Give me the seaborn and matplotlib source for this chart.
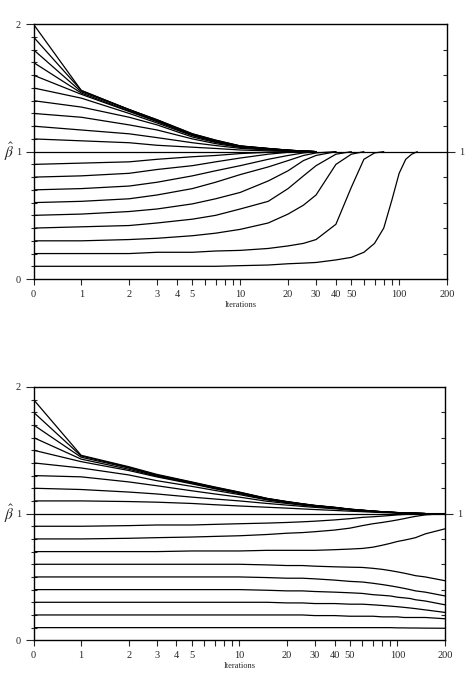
import numpy as np
import pandas as pd
import matplotlib
matplotlib.use('Agg')
import matplotlib.pyplot as plt
import seaborn as sns
from matplotlib.ticker import FixedLocator, NullFormatter

# ── Data ─────────────────────────────────────────────────────────────────────
# iteration 0 sits one "doubling" left of 1 on the log axis, so it is drawn at 0.5
iterations = [0, 1, 2, 3, 5, 7, 10, 15, 20, 25, 30, 40, 50, 60, 70, 80, 90,
              100, 110, 120, 130, 150, 200]

xtick_values = [0, 1, 2, 3, 4, 5, 10, 20, 30, 40, 50, 100, 200]
xtick_minor = [6, 7, 8, 9, 60, 70, 80, 90]
ytick_labels = [0, 1, 2]

level_one = [1.0, 1.0, 1.0, 1.0, 1.0, 1.0, 1.0, 1.0, 1.0, 1.0, 1.0, 1.0,
             1.0, 1.0, 1.0, 1.0, 1.0, 1.0, 1.0, 1.0, 1.0, 1.0, 1.0]

# top panel, starting values 2.0 .. 1.1 (curves end once they reach 1)
top_upper = [
    [2.00, 1.48, 1.33, 1.25, 1.14, 1.09, 1.045, 1.025, 1.012, 1.005, 1.0],
    [1.90, 1.48, 1.33, 1.25, 1.14, 1.09, 1.045, 1.025, 1.012, 1.005, 1.0],
    [1.80, 1.47, 1.33, 1.245, 1.135, 1.085, 1.043, 1.024, 1.011, 1.004, 1.0],
    [1.70, 1.46, 1.32, 1.24, 1.13, 1.083, 1.042, 1.023, 1.011, 1.004, 1.0],
    [1.60, 1.45, 1.315, 1.235, 1.13, 1.08, 1.04, 1.022, 1.01, 1.004, 1.0],
    [1.50, 1.42, 1.30, 1.225, 1.125, 1.077, 1.04, 1.02, 1.01, 1.003, 1.0],
    [1.40, 1.35, 1.27, 1.21, 1.115, 1.072, 1.037, 1.019, 1.009, 1.003, 1.0],
    [1.30, 1.27, 1.21, 1.17, 1.10, 1.063, 1.033, 1.017, 1.008, 1.003, 1.0],
    [1.20, 1.17, 1.14, 1.11, 1.07, 1.048, 1.026, 1.013, 1.006, 1.002, 1.0],
    [1.10, 1.085, 1.07, 1.05, 1.035, 1.025, 1.013, 1.006, 1.003, 1.001, 1.0],
]

# top panel, starting values 0.9 .. 0.1
top_lower = [
    [0.90, 0.91, 0.92, 0.94, 0.96, 0.97, 0.985, 0.995, 1.0],
    [0.80, 0.81, 0.83, 0.86, 0.89, 0.92, 0.95, 0.98, 0.995, 1.0],
    [0.70, 0.71, 0.73, 0.76, 0.81, 0.85, 0.89, 0.94, 0.97, 0.99, 1.0],
    [0.60, 0.61, 0.63, 0.66, 0.71, 0.76, 0.82, 0.88, 0.93, 0.97, 0.99, 1.0],
    [0.50, 0.51, 0.53, 0.55, 0.59, 0.63, 0.68, 0.77, 0.85, 0.93, 0.97, 1.0],
    [0.40, 0.41, 0.42, 0.44, 0.47, 0.50, 0.55, 0.61, 0.71, 0.81, 0.89, 0.98, 1.0],
    [0.30, 0.30, 0.31, 0.32, 0.34, 0.36, 0.39, 0.44, 0.51, 0.58, 0.66, 0.90,
     0.98, 1.0],
    [0.20, 0.20, 0.20, 0.21, 0.21, 0.22, 0.225, 0.24, 0.26, 0.28, 0.31, 0.43,
     0.72, 0.94, 0.99, 1.0],
    [0.10, 0.10, 0.10, 0.10, 0.10, 0.10, 0.105, 0.11, 0.12, 0.125, 0.13, 0.15,
     0.17, 0.21, 0.28, 0.40, 0.62, 0.83, 0.94, 0.98, 1.0],
]

# bottom panel, starting values 1.9 .. 1.1
bottom_upper = [
    [1.90, 1.46, 1.37, 1.31, 1.25, 1.21, 1.17, 1.12, 1.095, 1.078, 1.065, 1.05,
     1.035, 1.027, 1.02, 1.015, 1.011, 1.008, 1.006, 1.004, 1.003, 1.0],
    [1.80, 1.455, 1.365, 1.305, 1.247, 1.207, 1.168, 1.119, 1.094, 1.077, 1.064,
     1.049, 1.035, 1.027, 1.02, 1.015, 1.011, 1.008, 1.006, 1.004, 1.003, 1.0],
    [1.70, 1.445, 1.36, 1.30, 1.243, 1.204, 1.165, 1.117, 1.093, 1.076, 1.063,
     1.048, 1.034, 1.026, 1.019, 1.014, 1.011, 1.008, 1.006, 1.004, 1.002, 1.0],
    [1.60, 1.43, 1.35, 1.295, 1.24, 1.20, 1.162, 1.115, 1.091, 1.075, 1.062,
     1.047, 1.033, 1.025, 1.019, 1.014, 1.01, 1.007, 1.005, 1.003, 1.002, 1.0],
    [1.50, 1.41, 1.34, 1.29, 1.235, 1.196, 1.158, 1.112, 1.089, 1.073, 1.061,
     1.046, 1.033, 1.025, 1.018, 1.014, 1.01, 1.007, 1.005, 1.003, 1.002, 1.0],
    [1.40, 1.36, 1.305, 1.26, 1.215, 1.183, 1.15, 1.108, 1.086, 1.071, 1.06,
     1.045, 1.032, 1.024, 1.018, 1.013, 1.01, 1.007, 1.005, 1.003, 1.002, 1.0],
    [1.30, 1.29, 1.25, 1.22, 1.18, 1.155, 1.13, 1.097, 1.08, 1.066, 1.056,
     1.042, 1.031, 1.023, 1.017, 1.013, 1.009, 1.007, 1.005, 1.003, 1.002, 1.0],
    [1.20, 1.19, 1.17, 1.155, 1.13, 1.115, 1.10, 1.08, 1.067, 1.057, 1.049,
     1.038, 1.028, 1.021, 1.016, 1.012, 1.009, 1.006, 1.004, 1.003, 1.002, 1.0],
    [1.10, 1.10, 1.095, 1.09, 1.08, 1.07, 1.06, 1.05, 1.043, 1.037, 1.032,
     1.025, 1.019, 1.015, 1.011, 1.008, 1.006, 1.004, 1.003, 1.002, 1.001, 1.0],
]

# bottom panel, starting values 0.9 .. 0.1
bottom_lower = [
    [0.90, 0.90, 0.905, 0.91, 0.91, 0.915, 0.92, 0.925, 0.93, 0.935, 0.94, 0.95,
     0.96, 0.97, 0.975, 0.98, 0.985, 0.99, 0.993, 0.995, 0.997, 1.0, 1.0],
    [0.80, 0.80, 0.805, 0.81, 0.815, 0.82, 0.825, 0.835, 0.845, 0.85, 0.857,
     0.87, 0.885, 0.905, 0.92, 0.93, 0.94, 0.95, 0.96, 0.97, 0.978, 0.99, 1.0],
    [0.70, 0.70, 0.70, 0.70, 0.705, 0.705, 0.705, 0.71, 0.71, 0.71, 0.71, 0.715,
     0.72, 0.725, 0.735, 0.75, 0.765, 0.78, 0.79, 0.80, 0.81, 0.84, 0.88],
    [0.60, 0.60, 0.60, 0.60, 0.60, 0.60, 0.60, 0.595, 0.59, 0.59, 0.585, 0.58,
     0.577, 0.575, 0.568, 0.56, 0.55, 0.54, 0.53, 0.52, 0.51, 0.50, 0.47],
    [0.50, 0.50, 0.50, 0.50, 0.50, 0.50, 0.50, 0.495, 0.49, 0.49, 0.485, 0.475,
     0.465, 0.46, 0.45, 0.44, 0.43, 0.42, 0.41, 0.40, 0.39, 0.38, 0.35],
    [0.40, 0.40, 0.40, 0.40, 0.40, 0.40, 0.40, 0.395, 0.39, 0.39, 0.385, 0.38,
     0.375, 0.37, 0.36, 0.355, 0.35, 0.34, 0.335, 0.33, 0.32, 0.31, 0.28],
    [0.30, 0.30, 0.30, 0.30, 0.30, 0.30, 0.30, 0.30, 0.295, 0.295, 0.29, 0.29,
     0.285, 0.285, 0.28, 0.275, 0.27, 0.265, 0.26, 0.255, 0.25, 0.24, 0.22],
    [0.20, 0.20, 0.20, 0.20, 0.20, 0.20, 0.20, 0.20, 0.20, 0.20, 0.195, 0.195,
     0.19, 0.19, 0.19, 0.185, 0.185, 0.185, 0.18, 0.18, 0.18, 0.18, 0.17],
    [0.10, 0.10, 0.10, 0.10, 0.10, 0.10, 0.10, 0.10, 0.10, 0.10, 0.10, 0.10,
     0.10, 0.10, 0.10, 0.10, 0.10, 0.098, 0.098, 0.097, 0.097, 0.096, 0.095],
]

# ── Style ─────────────────────────────────────────────────────────────────────
sns.set_style('ticks')
plt.rcParams['font.family'] = ['Liberation Serif', 'DejaVu Serif']
plt.rcParams['mathtext.fontset'] = 'stix'


def iter_pos(t):
    return 0.5 if t == 0 else t


def draw_panel(ax, curves):
    rows = []
    for k, vals in enumerate(curves):
        for t, v in zip(iterations, vals):
            rows.append((k, iter_pos(t), v))
    df = pd.DataFrame(rows, columns=['curve', 'iteration', 'beta'])
    sns.lineplot(data=df, x='iteration', y='beta', units='curve', estimator=None,
                 color='black', lw=0.9, ax=ax, legend=False)

    ax.set_xscale('log')
    ax.set_xlim(0.5, 200)
    ax.set_ylim(0, 2)

    ax.xaxis.set_major_locator(FixedLocator([iter_pos(t) for t in xtick_values]))
    ax.set_xticklabels([str(t) for t in xtick_values])
    ax.xaxis.set_minor_locator(FixedLocator(xtick_minor))
    ax.xaxis.set_minor_formatter(NullFormatter())
    ax.tick_params(axis='x', which='major', direction='out', length=4, width=0.8,
                   labelsize=7.5, pad=4)
    ax.tick_params(axis='x', which='minor', direction='out', length=4, width=0.8)

    ax.set_yticks(ytick_labels)
    ax.set_yticks(np.arange(0, 2.01, 0.1), minor=True)
    ax.tick_params(axis='y', which='major', direction='out', length=6, width=0.8,
                   labelsize=7.5, pad=3)
    ax.tick_params(axis='y', which='minor', direction='inout', length=5, width=0.8)

    right = ax.secondary_yaxis('right')
    right.set_yticks([1])
    right.set_yticks(np.arange(0.2, 2.0, 0.2), minor=True)
    right.tick_params(which='major', direction='out', length=6, width=0.8,
                      labelsize=7.5, pad=3)
    right.tick_params(which='minor', direction='in', length=3, width=0.8)
    right.spines['right'].set_visible(False)

    for side in ['top', 'right', 'left', 'bottom']:
        ax.spines[side].set_visible(True)
        ax.spines[side].set_linewidth(1.0)
        ax.spines[side].set_color('black')

    ax.set_xlabel('Iterations', fontsize=6, labelpad=1)
    ax.set_ylabel(r'$\hat{\beta}$', fontsize=11, rotation=0, va='center', ha='center')
    ax.yaxis.set_label_coords(-0.058, 0.5)


fig = plt.figure(figsize=(4.72, 6.74), dpi=100)
ax_top = fig.add_axes([0.071, 0.586, 0.876, 0.378])
ax_bot = fig.add_axes([0.071, 0.050, 0.872, 0.376])

draw_panel(ax_top, top_upper + [level_one] + top_lower)
draw_panel(ax_bot, bottom_upper + [level_one] + bottom_lower)

fig.savefig('out.png', dpi=100, facecolor='white')
